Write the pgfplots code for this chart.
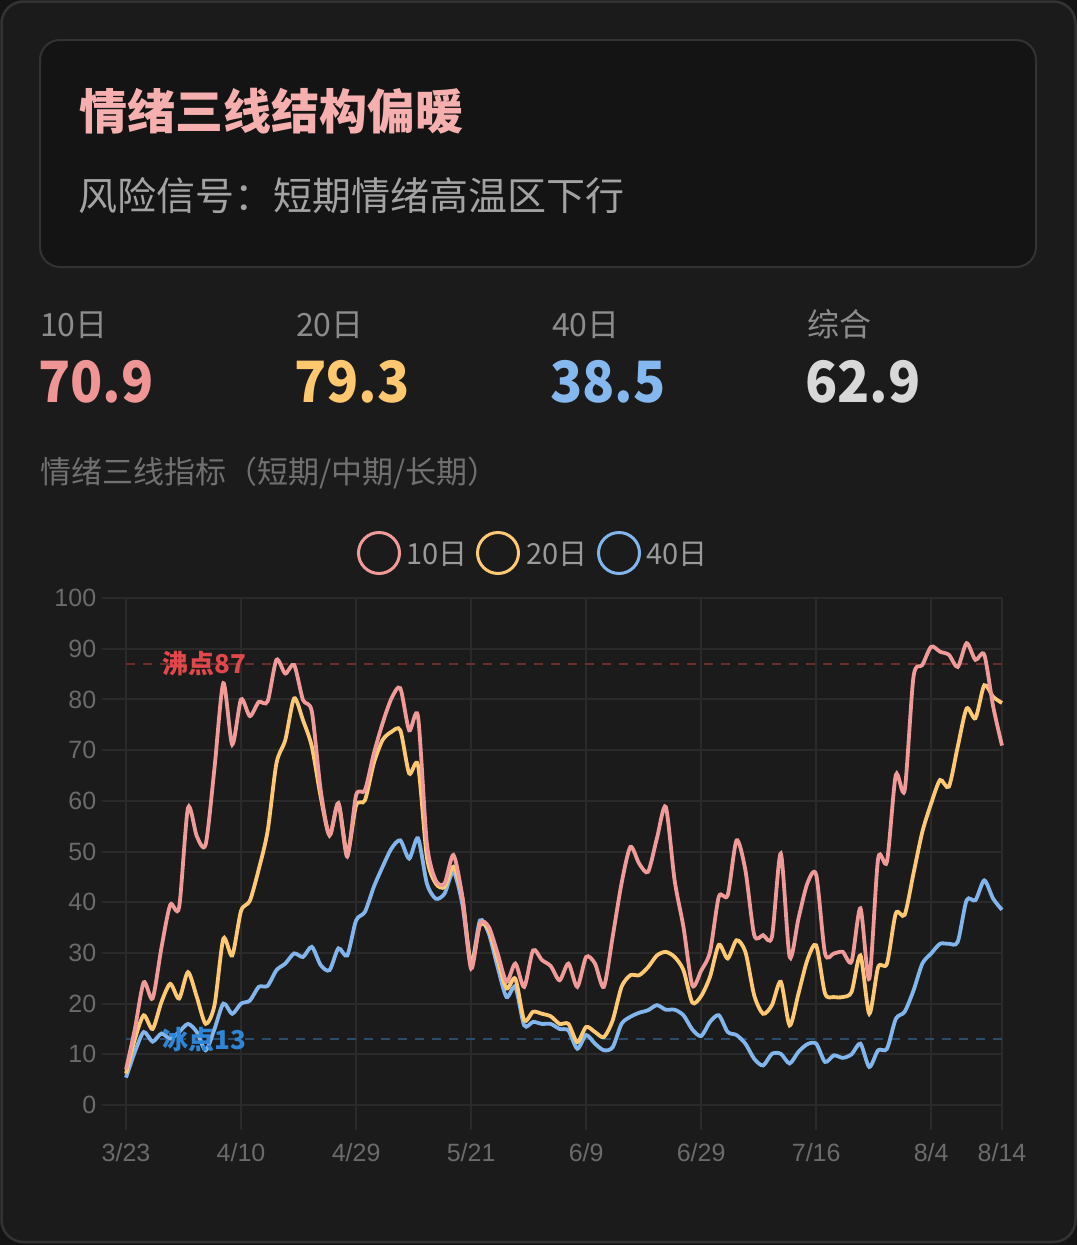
\documentclass[border=0pt]{standalone}
\usepackage{fontspec}
\usepackage{pgfplots}
\usepackage{pgfplotstable}
\pgfplotsset{compat=1.18}
\setmainfont{Noto Sans CJK SC}
\newfontfamily\arialf{Liberation Sans}

\definecolor{cred}{HTML}{F09A9A}
\definecolor{cyel}{HTML}{FFC872}
\definecolor{cblue}{HTML}{82B5EC}
\definecolor{gridc}{HTML}{2A2A2A}
\definecolor{bg}{HTML}{1B1B1B}
\definecolor{innerbg}{HTML}{141414}
\definecolor{bord}{HTML}{333333}
\definecolor{ctitle}{HTML}{F5AFAF}
\definecolor{csub}{HTML}{A3A3A3}
\definecolor{clab}{HTML}{8C8C8C}
\definecolor{vred}{HTML}{F09595}
\definecolor{vyel}{HTML}{FFC86E}
\definecolor{vblue}{HTML}{85B8EE}
\definecolor{vgray}{HTML}{D8D8D8}
\definecolor{ctitle2}{HTML}{707070}
\definecolor{cleg}{HTML}{9A9A9A}
\definecolor{ctick}{HTML}{6B6B6B}
\definecolor{mred}{HTML}{6A2E2E}
\definecolor{mblue}{HTML}{2C4A6A}
\definecolor{lred}{HTML}{E0484C}
\definecolor{lblue}{HTML}{2F86D6}

\pgfplotstableread{
i r y b
0 7 6.2 5.4
1 15 13 10.5
2 24.2 17.7 14.4
3 21 15 12.5
4 31 20.3 14.1
5 39.5 23.9 13.1
6 39 21 14.4
7 58.6 26.2 16
8 53 21.3 14.4
9 51.4 16 10.8
10 66.5 19.7 15
11 83.2 32.8 20
12 71.1 29.5 18
13 80 38.3 20
14 76.7 40.3 20.6
15 79.5 46.5 23.3
16 79.6 54 23.5
17 87.8 67.4 26.6
18 85.1 72 27.9
19 86.8 80.2 29.9
20 79.9 75.9 29.2
21 77.6 70.7 31.2
22 62.1 60.8 27.6
23 53.2 53.2 26.6
24 59.5 59.5 30.9
25 49 49.6 29.5
26 61.1 59.1 36.4
27 62.1 60.1 38.1
28 69.3 67.4 43
29 75.3 72 47
30 80.2 73.6 50.6
31 82.2 73.9 52.2
32 73.9 65.4 48.6
33 76.6 67 52.6
34 51.6 48.9 43.7
35 44.3 43.7 40.7
36 43.7 43 41.7
37 49.3 47 46
38 41.1 41.1 39.7
39 26.9 27.9 27.9
40 35.8 35.5 36.4
41 35.1 34.5 33.8
42 29.9 28.6 27.2
43 24.3 23 21.3
44 27.9 24.9 23.3
45 23.3 16.7 15.7
46 30.5 18.4 16.4
47 28.6 18 16
48 27.4 17.5 16
49 24.6 16 15
50 27.9 16 14.7
51 23.3 12.4 11.1
52 29.2 15.4 13.8
53 27.9 14.4 12.1
54 23.3 13.4 10.8
55 33.2 16.7 11.4
56 43.7 23.3 16
57 50.9 25.6 17.4
58 47.6 25.6 18.2
59 46 27.2 18.7
60 52.6 29.5 19.7
61 58.8 30.2 18.8
62 44.3 29.2 18.8
63 35.1 26.6 17.7
64 23.6 20.2 14.9
65 26.5 21.5 13.6
66 30.2 25.3 16.4
67 41.1 31.6 17.7
68 41.4 28.9 14.4
69 52.2 32.5 13.8
70 46.3 30.2 12.1
71 33.5 21.6 9.1
72 33.5 18 7.8
73 33.2 19.7 10.1
74 49.6 24.3 10.1
75 29.2 15.7 8.2
76 36.8 22 10.5
77 43.7 28.6 12
78 45.4 31.5 12.1
79 29.9 22 8.5
80 29.9 21.3 9.8
81 30.2 21.3 9.3
82 28.3 22.3 10
83 38.8 29.5 12.1
84 24.9 18 7.5
85 48.6 27.2 10.8
86 48 27.9 11.1
87 65.1 37.8 17
88 62.1 37.5 18.4
89 84.5 45.7 22.6
90 86.8 53.9 27.9
91 90.4 59.5 29.9
92 89.4 64.1 31.8
93 88.8 62.8 31.8
94 86.4 70.7 32.2
95 91.1 78.2 40.4
96 87.8 76.3 40.4
97 88.8 82.8 44.3
98 78.6 80.5 40.7
99 70.9 79.3 38.5
}\datatable

\begin{document}
\begin{tikzpicture}[x=1pt,y=1pt]
\fill[black!92] (0,0) rectangle (1077,-1245);
\useasboundingbox (0,0) rectangle (1077,-1245);
\filldraw[fill=bg, draw=bord, line width=2.5pt, rounded corners=22pt] (1.5,-1.5) rectangle (1075.5,-1242);
\filldraw[fill=innerbg, draw=bord, line width=2pt, rounded corners=20pt] (40,-40) rectangle (1036,-267);

\node[anchor=base west, inner sep=0, text=ctitle, font=\fontsize{48}{48}\selectfont\bfseries] at (79,-129) {情绪三线结构偏暖};
\node[anchor=base west, inner sep=0, text=csub, font=\fontsize{39}{39}\selectfont] at (78,-210) {风险信号：短期情绪高温区下行};

\node[anchor=base west, inner sep=0, text=clab, font=\fontsize{32}{32}\selectfont] at (40,-336) {10日};
\node[anchor=base west, inner sep=0, text=clab, font=\fontsize{32}{32}\selectfont] at (296,-336) {20日};
\node[anchor=base west, inner sep=0, text=clab, font=\fontsize{32}{32}\selectfont] at (552,-336) {40日};
\node[anchor=base west, inner sep=0, text=clab, font=\fontsize{32}{32}\selectfont] at (807,-336) {综合};

\node[anchor=base west, inner sep=0, text=vred, font=\fontsize{57}{57}\selectfont\bfseries] at (38,-402) {\scalebox{0.93}[1]{70.9}};
\node[anchor=base west, inner sep=0, text=vyel, font=\fontsize{57}{57}\selectfont\bfseries] at (294,-402) {\scalebox{0.93}[1]{79.3}};
\node[anchor=base west, inner sep=0, text=vblue, font=\fontsize{57}{57}\selectfont\bfseries] at (550,-402) {\scalebox{0.93}[1]{38.5}};
\node[anchor=base west, inner sep=0, text=vgray, font=\fontsize{57}{57}\selectfont\bfseries] at (805,-402) {\scalebox{0.93}[1]{62.9}};

\node[anchor=base west, inner sep=0, text=ctitle2, font=\fontsize{31}{31}\selectfont] at (40,-483) {情绪三线指标（短期/中期/长期）};

\draw[cred, line width=3pt] (379,-553) circle (20.5);
\node[anchor=base west, inner sep=0, text=cleg, font=\fontsize{29}{29}\selectfont] at (406,-564) {10日};
\draw[cyel, line width=3pt] (498,-553) circle (20.5);
\node[anchor=base west, inner sep=0, text=cleg, font=\fontsize{29}{29}\selectfont] at (526,-564) {20日};
\draw[cblue, line width=3pt] (619,-553) circle (20.5);
\node[anchor=base west, inner sep=0, text=cleg, font=\fontsize{29}{29}\selectfont] at (646,-564) {40日};

\begin{axis}[
  at={(101.7pt,-1105pt)}, anchor=south west,
  scale only axis, width=900.3pt, height=507pt,
  xmin=-2.75, xmax=99, ymin=0, ymax=100,
  clip=false,
  axis line style={draw=none},
  grid=major,
  major grid style={gridc, line width=2pt},
  major tick length=0pt,
  xtick={0,13,26,39,52,65,78,91,99},
  xticklabels={3/23,4/10,4/29,5/21,6/9,6/29,7/16,8/4,8/14},
  ytick={0,10,...,100},
  /pgf/number format/assume math mode=true,
  tick label style={font=\arialf\fontsize{25}{25}\selectfont, text=ctick},
  xticklabel style={anchor=center, yshift=-48pt},
  yticklabel style={anchor=east, xshift=-2pt},
]
\pgfplotsinvokeforeach{0,13,26,39,52,65,78,91,99}{
  \draw[gridc, line width=2pt] (axis cs:#1,0) -- ([yshift=-25pt]axis cs:#1,0);
}
\addplot[mred, line width=2pt, dash pattern=on 9pt off 8pt] coordinates {(0,87) (99,87)};
\addplot[mblue, line width=2pt, dash pattern=on 9pt off 8pt] coordinates {(0,13) (99,13)};
\addplot[cblue, line width=3.8pt, smooth, tension=0.45] table[x=i, y=b] {\datatable};
\addplot[cyel, line width=3.8pt, smooth, tension=0.45] table[x=i, y=y] {\datatable};
\addplot[cred, line width=3.8pt, smooth, tension=0.45] table[x=i, y=r] {\datatable};
\node[anchor=west, inner sep=0, text=lred, font=\fontsize{26}{26}\selectfont\bfseries] at (axis cs:4.07,87) {沸点87};
\node[anchor=west, inner sep=0, text=lblue, font=\fontsize{26}{26}\selectfont\bfseries] at (axis cs:4.07,13) {冰点13};
\end{axis}
\end{tikzpicture}
\end{document}
